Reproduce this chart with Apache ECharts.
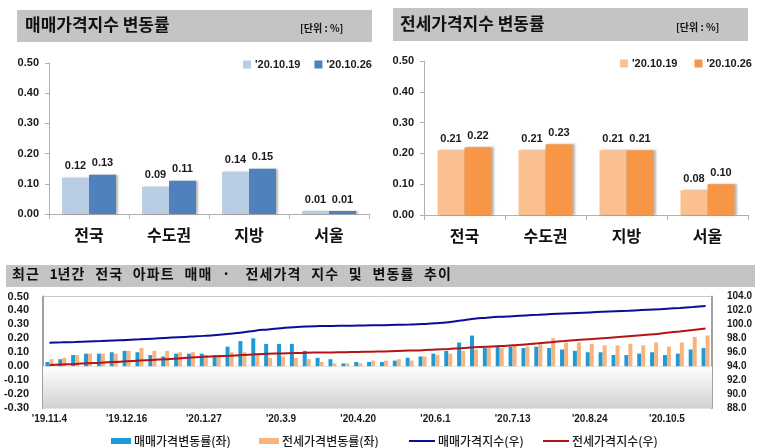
<!DOCTYPE html>
<html><head><meta charset="utf-8">
<script src="https://cdn.jsdelivr.net/npm/echarts@6/dist/echarts.min.js"></script>
<style>html,body{margin:0;padding:0;background:#fff}#c{width:763px;height:448px}</style>
</head><body><div id="c"></div>
<script>
// ---- data ----
const regions = ['전국', '수도권', '지방', '서울'];
const weekA = "'20.10.19", weekB = "'20.10.26";
const saleRateA = [0.12, 0.09, 0.14, 0.01];
const saleRateB = [0.13, 0.11, 0.15, 0.01];
const jeonseRateA = [0.21, 0.21, 0.21, 0.08];
const jeonseRateB = [0.22, 0.23, 0.21, 0.10];

const weeks = ["'19.11.4","'19.11.11","'19.11.18","'19.11.25","'19.12.2","'19.12.9","'19.12.16","'19.12.23","'19.12.30",
"'20.1.6","'20.1.13","'20.1.20","'20.1.27","'20.2.3","'20.2.10","'20.2.17","'20.2.24","'20.3.2","'20.3.9","'20.3.16",
"'20.3.23","'20.3.30","'20.4.6","'20.4.13","'20.4.20","'20.4.27","'20.5.4","'20.5.11","'20.5.18","'20.5.25","'20.6.1",
"'20.6.8","'20.6.15","'20.6.22","'20.6.29","'20.7.6","'20.7.13","'20.7.20","'20.7.27","'20.8.3","'20.8.10","'20.8.17",
"'20.8.24","'20.8.31","'20.9.7","'20.9.14","'20.9.21","'20.9.28","'20.10.5","'20.10.12","'20.10.19","'20.10.26"];
const saleWeeklyRate = [0.03,0.05,0.08,0.09,0.09,0.10,0.11,0.10,0.08,0.07,0.09,0.09,0.09,0.08,0.14,0.18,0.20,0.16,0.16,0.16,
0.11,0.06,0.05,0.02,0.03,0.03,0.03,0.04,0.06,0.07,0.09,0.11,0.17,0.22,0.13,0.14,0.14,0.13,0.14,0.13,0.12,0.11,0.10,0.10,
0.08,0.08,0.09,0.10,0.08,0.09,0.12,0.13];
const jeonseWeeklyRate = [0.05,0.06,0.08,0.09,0.09,0.09,0.11,0.13,0.11,0.11,0.10,0.10,0.08,0.08,0.10,0.10,0.09,0.06,0.07,0.06,
0.05,0.03,0.02,0.02,0.02,0.04,0.04,0.05,0.04,0.07,0.08,0.09,0.11,0.12,0.13,0.13,0.15,0.14,0.16,0.20,0.17,0.17,0.16,0.15,
0.15,0.16,0.15,0.17,0.14,0.17,0.21,0.22];
const saleIndex = [97.37,97.42,97.48,97.55,97.62,97.70,97.76,97.85,97.95,98.05,98.15,98.25,98.35,98.48,98.65,98.85,99.10,
99.28,99.45,99.60,99.70,99.75,99.78,99.80,99.83,99.86,99.89,99.93,99.98,100.05,100.15,100.30,100.55,100.80,100.95,101.08,
101.18,101.28,101.38,101.48,101.56,101.64,101.72,101.80,101.88,101.96,102.05,102.14,102.24,102.36,102.50,102.65];
const jeonseIndex = [94.17,94.25,94.33,94.42,94.50,94.60,94.70,94.80,94.90,95.00,95.10,95.25,95.35,95.42,95.50,95.60,95.70,
95.78,95.83,95.88,95.93,95.96,95.98,96.00,96.04,96.08,96.12,96.18,96.24,96.30,96.40,96.48,96.58,96.70,96.80,96.88,97.00,
97.12,97.28,97.45,97.60,97.75,97.88,98.00,98.15,98.30,98.45,98.60,98.80,98.98,99.18,99.40];

const nameSaleRate = '매매가격변동률(좌)', nameJeonseRate = '전세가격변동률(좌)';
const nameSaleIdx = '매매가격지수(우)', nameJeonseIdx = '전세가격지수(우)';
const bottomTitle = '최근 1년간 전국 아파트 매매 · 전세가격 지수 및 변동률 추이';

// ---- style ----
const NUM = 'Liberation Sans, Arial, Noto Sans CJK KR, sans-serif';
const KR = 'Noto Sans CJK KR, sans-serif';
const txt = '#1a1a1a';

function topY(idx){
  return {gridIndex: idx, min: 0, max: 0.5, interval: 0.1,
    axisLine:{show:true, lineStyle:{color:'#b0b0b0'}},
    axisTick:{show:true, length:4, lineStyle:{color:'#b0b0b0'}},
    splitLine:{show:false},
    axisLabel:{formatter: v => v.toFixed(2), color: txt, fontFamily: NUM, fontWeight:'bold', fontSize: 11, margin: 10}};
}
function topX(idx){
  return {type:'category', gridIndex: idx, data: regions,
    axisLine:{lineStyle:{color:'#b0b0b0'}},
    axisTick:{show:true, length:5, lineStyle:{color:'#b0b0b0'}},
    axisLabel:{color:'#111', fontFamily: KR, fontWeight:'bold', fontSize: 16, margin: 13}};
}
const lbl = {show:true, position:'top', distance:6, color: txt, fontFamily: NUM, fontWeight:'bold', fontSize: 11,
  formatter: p => p.value.toFixed(2)};
const shadow = {shadowColor:'rgba(0,0,0,0.28)', shadowBlur:2, shadowOffsetX:2, shadowOffsetY:0};
const lineIcon = 'path://M0,0 L26,0 L26,2 L0,2 Z';
function bottomLegend(name, left, icon){
  const item = icon ? {name: name, icon: icon} : {name: name};
  return {data:[item], left:left, top:430, itemWidth: icon ? 26 : 20, itemHeight: icon ? 2 : 6, itemGap:0,
    icon: icon ? undefined : 'rect',
    textStyle:{fontFamily:KR, fontSize:12, fontWeight:500, color:txt, padding:[0,0,0,-2]}};
}

const graphics = [
  {type:'rect', shape:{x:17,y:10,width:355,height:32}, style:{fill:'#c4c4c4'}, z:-10},
  {type:'rect', shape:{x:393,y:8,width:355,height:33}, style:{fill:'#c4c4c4'}, z:-10},
  {type:'rect', shape:{x:6,y:265,width:749,height:22}, style:{fill:'#c4c4c4'}, z:-10},
  {type:'text', left:25, top:16, style:{text:'매매가격지수 변동률', font:'bold 17px '+KR, fill:'#111'}},
  {type:'text', left:300, top:23, style:{text:'[단위 : %]', font:'bold 10px '+KR, fill:'#111'}},
  {type:'text', left:400, top:15, style:{text:'전세가격지수 변동률', font:'bold 17px '+KR, fill:'#111'}},
  {type:'text', left:676, top:22, style:{text:'[단위 : %]', font:'bold 10px '+KR, fill:'#111'}}
];
// wide letter-spaced bottom title (each character placed on an even pitch)
(function(){
  let x = 12;
  for (const ch of bottomTitle) {
    if (ch === ' ') { x += 9.6; continue; }
    graphics.push({type:'text', left: x, top: 267, style:{text: ch, font:'bold 14px '+KR, fill:'#111'}});
    x += /[0-9]/.test(ch) ? 8 : 14;
  }
})();

const chart = echarts.init(document.getElementById('c'), null, {renderer:'canvas'});
chart.setOption({
  backgroundColor:'#fff',
  animation:false,
  graphic: graphics,
  legend:[
    {data:[weekA, weekB], left:238, top:54, icon:'rect', itemWidth:8, itemHeight:8, itemGap:14,
      textStyle:{fontFamily:NUM, fontWeight:'bold', fontSize:11, color:txt, padding:[0,0,0,-1]}},
    {data:[weekA+' ', weekB+' '], left:615, top:53, icon:'rect', itemWidth:8, itemHeight:8, itemGap:14,
      textStyle:{fontFamily:NUM, fontWeight:'bold', fontSize:11, color:txt, padding:[0,0,0,-1]}},
    bottomLegend(nameSaleRate, 106),
    bottomLegend(nameJeonseRate, 254),
    bottomLegend(nameSaleIdx, 404, lineIcon),
    bottomLegend(nameJeonseIdx, 538, lineIcon)
  ],
  grid:[
    {left:49, top:63, width:320, height:151, outerBoundsMode:'none'},
    {left:424, top:61, width:324, height:154, outerBoundsMode:'none'},
    {left:43, top:296.5, width:669, height:111.5, outerBoundsMode:'none', show:true, borderColor:'#c8c8c8', borderWidth:1, backgroundColor:'#fff'}
  ],
  xAxis:[
    topX(0), topX(1),
    {type:'category', gridIndex:2, data: weeks,
      axisLine:{onZero:true, lineStyle:{color:'#9a9a9a'}},
      axisTick:{show:true, interval:0, length:3, lineStyle:{color:'#9a9a9a'}},
      axisLabel:{show:false}},
    {type:'category', gridIndex:2, data: weeks, position:'bottom',
      axisLine:{show:false, onZero:false}, axisTick:{show:false},
      axisLabel:{interval:5, color:txt, fontFamily:NUM, fontWeight:'bold', fontSize:10, margin:6}}
  ],
  yAxis:[
    topY(0), topY(1),
    {gridIndex:2, min:-0.3, max:0.5, interval:0.1, axisLine:{show:true, lineStyle:{color:'#a0a0a0', width:2}},
      axisTick:{show:false}, splitLine:{show:false},
      axisLabel:{formatter: v => v.toFixed(2), color:txt, fontFamily:NUM, fontWeight:'bold', fontSize:11, margin:14}},
    {gridIndex:2, min:88, max:104, interval:2, position:'right', axisLine:{show:true, lineStyle:{color:'#a0a0a0', width:2}},
      axisTick:{show:false}, splitLine:{show:false},
      axisLabel:{formatter: v => v.toFixed(1), color:txt, fontFamily:NUM, fontWeight:'bold', fontSize:10, margin:15}}
  ],
  series:[
    {name:weekA, type:'bar', xAxisIndex:0, yAxisIndex:0, data:saleRateA, barWidth:27, barGap:'0%',
      itemStyle:Object.assign({color:'#b9cde5'}, shadow), label:lbl},
    {name:weekB, type:'bar', xAxisIndex:0, yAxisIndex:0, data:saleRateB, barWidth:27, barGap:'0%',
      itemStyle:Object.assign({color:'#4f81bd'}, shadow), label:lbl},
    {name:weekA+' ', type:'bar', xAxisIndex:1, yAxisIndex:1, data:jeonseRateA, barWidth:27, barGap:'0%',
      itemStyle:Object.assign({color:'#fac090'}, shadow), label:lbl},
    {name:weekB+' ', type:'bar', xAxisIndex:1, yAxisIndex:1, data:jeonseRateB, barWidth:27, barGap:'0%',
      itemStyle:Object.assign({color:'#f79646'}, shadow), label:lbl},
    {name:nameSaleRate, type:'bar', xAxisIndex:2, yAxisIndex:2, data:saleWeeklyRate, barWidth:4, barGap:'0%',
      itemStyle:{color:'#1e9bd7'},
      markArea:{silent:true, itemStyle:{color:{type:'linear', x:0, y:0, x2:0, y2:1,
        colorStops:[{offset:0, color:'#ffffff'},{offset:1, color:'#d2d2d2'}]}},
        data:[[{yAxis:0},{yAxis:-0.3}]]}},
    {name:nameJeonseRate, type:'bar', xAxisIndex:2, yAxisIndex:2, data:jeonseWeeklyRate, barWidth:4, barGap:'0%',
      itemStyle:{color:'#f9b47e'}},
    {name:nameSaleIdx, type:'line', xAxisIndex:2, yAxisIndex:3, data:saleIndex, symbol:'none', smooth:true,
      lineStyle:{color:'#0c0c96', width:2}, itemStyle:{color:'#0c0c96'}},
    {name:nameJeonseIdx, type:'line', xAxisIndex:2, yAxisIndex:3, data:jeonseIndex, symbol:'none', smooth:true,
      lineStyle:{color:'#b41414', width:2}, itemStyle:{color:'#b41414'}}
  ]
});
</script></body></html>
